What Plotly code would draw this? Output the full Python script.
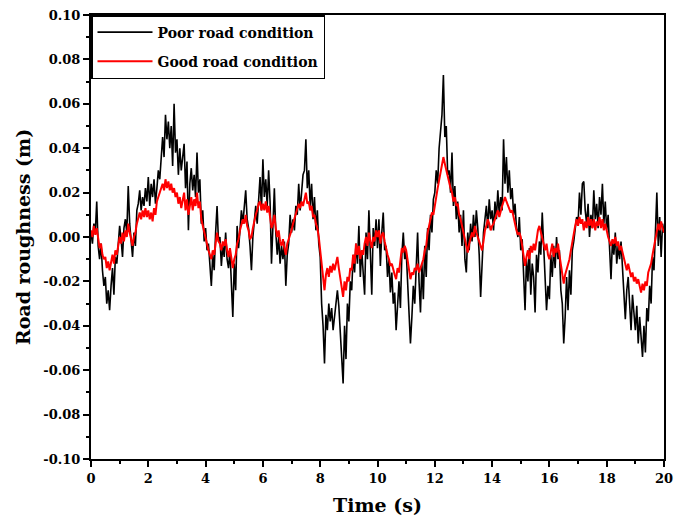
import numpy as np
import plotly.graph_objects as go

# Time axis sampling (s)
time_s = np.round(np.arange(401) * 0.05, 2)

# Road roughness, poor road condition (mm), every 0.05 s
poor_mm = [
    2, -3, 6, 2, 16, -4, -10, -3, -15, -22,
    -18, -30, -24, -33, -22, -14, -26, -9, -12, -5,
    5, -1, -9, 4, 8, 2, 23, 6, -3, -9,
    2, -4, 12, 15, 21, 12, 18, 14, 22, 16,
    27, 14, 24, 18, 26, 15, 22, 30, 26, 36,
    45, 36, 55, 44, 52, 40, 50, 32, 60, 38,
    44, 28, 40, 30, 36, 42, 22, 34, 3, 24,
    31, 21, 28, 18, 38, 20, 26, 6, 12, -2,
    4, -6, -3, -12, -22, -8, -15, 2, 14, -2,
    0, -13, -4, -9, 2, -10, -14, -6, -20, -36,
    -12, -24, 5, -5, 3, 12, 6, 15, 21, 8,
    4, -4, -15, 0, 8, 14, 6, 20, 27, 12,
    35, 18, 26, 14, 30, 16, -12, 5, 22, 2,
    -8, 0, -12, -4, -10, -2, -22, -8, -3, 10,
    2, 8, 3, 14, 10, 24, 12, 20, 28, 30,
    44, 22, 30, 14, 24, 8, 18, 3, 12, -3,
    -9, -30, -40, -57, -35, -42, -30, -38, -32, -42,
    -36, -28, -24, -31, -45, -52, -66, -40, -55, -30,
    -38, -20, -24, -8, -16, -3, -12, 5, -18, -6,
    -14, -26, 2, -10, 12, -8, -26, 4, -4, 8,
    -5, 8, -13, 2, 11, -6, -4, -18, -10, -25,
    -16, -30, -25, -42, -28, -20, -32, -8, 2, -10,
    -6, -20, -30, -48, -36, -22, -30, -14, 2, -20,
    -34, -12, -28, -4, -18, 4, -6, 10, 2, 17,
    20, 30, 24, 40, 47, 55, 73, 45, 50, 28,
    30, 20, 38, 14, 23, 8, 16, 2, 10, -4,
    12, -10, -16, 2, -6, 6, -2, 10, 0, 12,
    4, -8, -27, -12, 2, 8, 14, 4, 17, 8,
    12, 3, 16, 8, 21, 10, 18, 12, 44, 24,
    36, 20, 30, 17, 22, 10, 15, 4, 0, 9,
    -6, -1, -22, -33, -10, -20, -5, -26, -12, -18,
    -34, -8, -16, -2, -8, 11, -4, -18, -33, -22,
    -28, -8, -18, -4, -14, 0, -10, -6, -24, -30,
    -48, -36, -18, -33, -15, -26, -6, -2, 4, 9,
    6, 20, 10, 24, 25, 12, 6, 15, 0, 10,
    4, 21, 8, 15, 4, 18, 10, 24, 6, 16,
    3, 10, -5, -19, -2, -8, 2, -12, -4, -10,
    -2, -15, -28, -37, -24, -18, -30, -42, -26, -36,
    -42, -31, -48, -36, -45, -54, -40, -52, -32, -38,
    -22, -30, -9, -15, 2, 20, -4, 9, -9, 6,
    2,
]

# Road roughness, good road condition (mm), every 0.05 s
good_mm = [
    3, 0, 5, 1, 4, -2, -5, -3, -8, -10,
    -9, -14, -11, -15, -12, -8, -12, -6, -8, -3,
    0, -3, 2, -2, 3, 0, 6, 2, -2, -4,
    0, 2, 6, 8, 11, 8, 12, 9, 13, 9,
    12, 8, 11, 7, 13, 10, 16, 18, 20, 22,
    24, 21, 26, 22, 25, 21, 24, 20, 22, 18,
    20, 15, 18, 13, 16, 20, 12, 17, 10, 14,
    18, 12, 17, 14, 20, 13, 16, 8, 5, 2,
    0, -3, -6, -8, -10, -6, -8, -3, 2, -2,
    -3, -6, -2, -4, -1, -6, -9, -5, -10, -14,
    -10, -8, -3, -1, 3, 5, 8, 6, 10, 5,
    3, -1, 0, 4, 8, 10, 12, 15, 16, 12,
    15, 12, 16, 11, 14, 8, 4, 6, 10, 4,
    0, 3, -2, -4, -1, -5, -8, -3, -1, 0,
    3, 6, 8, 10, 12, 15, 13, 16, 14, 17,
    20, 15, 16, 12, 14, 9, 10, 6, 4, 0,
    -6, -12, -18, -24, -17, -14, -18, -13, -16, -12,
    -15, -12, -9, -14, -18, -22, -27, -20, -24, -18,
    -20, -14, -15, -8, -12, -3, -8, -4, -10, -6,
    -8, -3, 0, -4, 2, -2, -5, 0, -2, 3,
    0, 3, -3, 1, 2, -2, -6, -8, -10, -13,
    -12, -15, -17, -19, -14, -16, -10, -5, -7, -4,
    -6, -10, -15, -19, -16, -17, -14, -15, -12, -16,
    -14, -12, -10, -6, -4, 2, 5, 8, 11, 10,
    15, 18, 22, 26, 28, 32, 36, 33, 30, 27,
    24, 22, 20, 16, 18, 14, 15, 10, 8, 5,
    2, -1, -5, -7, -3, -1, 2, 0, 5, 2,
    0, -1, -4, -6, -2, 3, 5, 8, 6, 3,
    5, 6, 8, 10, 12, 9, 12, 14, 16, 18,
    16, 14, 13, 11, 12, 8, 6, 3, 1, 2,
    0, -4, -8, -13, -9, -6, -10, -4, -7, -3,
    -6, 0, 3, 5, 2, -1, -4, -6, -3, -8,
    -10, -6, -3, -9, -5, -7, -3, -8, -12, -15,
    -21, -17, -15, -12, -10, -6, -2, 3, 5, 8,
    5, 9, 6, 8, 3, 7, 4, 9, 5, 8,
    4, 8, 3, 7, 5, 9, 4, 8, 3, 6,
    2, 0, -2, -4, -1, -3, 0, -4, -2, -6,
    -4, -7, -10, -13, -15, -12, -15, -18, -16, -20,
    -18, -21, -19, -22, -25, -21, -24, -20, -22, -16,
    -14, -12, -8, -4, 0, 4, 6, 3, 7, 4,
    2,
]

x_tick_vals = [0, 2, 4, 6, 8, 10, 12, 14, 16, 18, 20]
x_tick_labels = ["0", "2", "4", "6", "8", "10", "12", "14", "16", "18", "20"]
y_tick_vals = [-0.10, -0.08, -0.06, -0.04, -0.02, 0.00, 0.02, 0.04, 0.06, 0.08, 0.10]
y_tick_labels = ["-0.10", "-0.08", "-0.06", "-0.04", "-0.02", "0.00",
                 "0.02", "0.04", "0.06", "0.08", "0.10"]

poor_m = np.array(poor_mm) / 1000.0
good_m = np.array(good_mm) / 1000.0

FONT = "DejaVu Serif"

fig = go.Figure()
fig.add_trace(go.Scatter(
    x=time_s, y=poor_m, mode="lines", name="Poor road condition",
    legendgroup="poor",
    line=dict(color="#000000", width=1.6),
))
fig.add_trace(go.Scatter(
    x=time_s, y=good_m, mode="lines", name="Good road condition",
    legendgroup="good",
    line=dict(color="#ff0000", width=2),
))

axis_common = dict(
    showline=True, linecolor="black", linewidth=2, mirror=True,
    showgrid=False, zeroline=False, automargin=False,
    ticks="outside", ticklen=6, tickwidth=1.5, tickcolor="black",
    tickfont=dict(family=FONT, size=13, color="black", weight="bold"),
    ticklabeloverflow="allow",
)

fig.update_layout(
    width=675, height=519,
    margin=dict(l=91, r=11, t=15, b=60),
    paper_bgcolor="white", plot_bgcolor="white",
    font=dict(family=FONT, color="black", size=13, weight="bold"),
    showlegend=True,
    legend=dict(
        x=0, y=1, xanchor="left", yanchor="top",
        bordercolor="black", borderwidth=1.5, bgcolor="white",
        font=dict(family=FONT, size=14, color="black", weight="bold"),
        traceorder="grouped", tracegroupgap=8,
        itemwidth=55, entrywidth=228,
    ),
    xaxis=dict(
        range=[0, 20], tickmode="array", tickvals=x_tick_vals, ticktext=x_tick_labels,
        minor=dict(dtick=1, ticks="outside", ticklen=3, tickwidth=1.5, tickcolor="black"),
        title=dict(text="Time (s)", font=dict(family=FONT, size=19, color="black", weight="bold"),
                   standoff=14),
        **axis_common,
    ),
    yaxis=dict(
        range=[-0.1, 0.1], tickmode="array", tickvals=y_tick_vals, ticktext=y_tick_labels,
        minor=dict(dtick=0.01, tick0=0, ticks="outside", ticklen=3, tickwidth=1.5, tickcolor="black"),
        title=dict(text="Road roughness (m)", font=dict(family=FONT, size=19, color="black", weight="bold"),
                   standoff=8),
        **axis_common,
    ),
)

fig.write_html("out.html")
